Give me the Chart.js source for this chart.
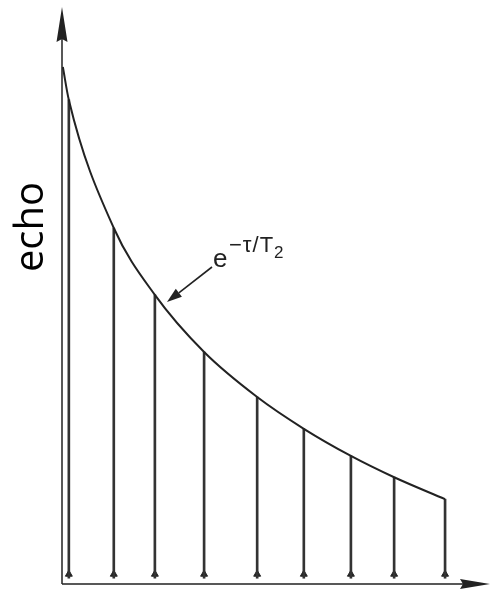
<!DOCTYPE html>
<html>
<head>
<meta charset="utf-8">
<script src="https://cdn.jsdelivr.net/npm/chart.js"></script>
<style>
  html, body { margin: 0; padding: 0; background: #fff; overflow: hidden; }
  #wrap { width: 491px; height: 591px; }
  canvas { display: block; }
</style>
</head>
<body>
<div id="wrap"><canvas id="echoChart"></canvas></div>
<script>
// axis units: 0..100 along each axis (time / echo amplitude)
const stemTimes = [1.6, 12.1, 21.7, 33.2, 45.6, 56.5, 67.5, 77.6, 89.5];
const stemEchoes = [83.9, 61.7, 50.1, 40.2, 32.4, 26.9, 22.2, 18.5, 14.7];
const curveTimes = [0.2, 1.6, 12.1, 21.7, 33.2, 45.6, 56.5, 67.5, 77.6, 89.5];
const curveEchoes = [89.6, 83.9, 61.7, 50.1, 40.2, 32.4, 26.9, 22.2, 18.5, 14.7];
const stemBase = 1.0;
const footLevel = 1.7;

const ink = '#222';

const curvePoints = curveTimes.map((t, i) => ({ x: t, y: curveEchoes[i] }));
const stemBars = stemTimes.map((t, i) => ({ x: t, y: [stemBase, stemEchoes[i]] }));
const feet = stemTimes.map(t => ({ x: t, y: footLevel }));

// axes with arrowheads, the "echo" label and the e^(-tau/T2) note
const decorations = {
  id: 'decorations',
  beforeDatasetsDraw(chart) {
    const { ctx, chartArea: a } = chart;
    ctx.save();
    ctx.strokeStyle = ink;
    ctx.fillStyle = ink;
    ctx.lineWidth = 1.5;
    ctx.beginPath();
    ctx.moveTo(a.left, a.bottom);
    ctx.lineTo(a.left, a.top + 30);
    ctx.moveTo(a.left, a.bottom);
    ctx.lineTo(a.right - 25, a.bottom);
    ctx.stroke();
    // y arrow
    ctx.beginPath();
    ctx.moveTo(a.left, a.top);
    ctx.lineTo(a.left + 5.5, a.top + 35);
    ctx.lineTo(a.left, a.top + 32);
    ctx.lineTo(a.left - 5.5, a.top + 35);
    ctx.closePath();
    ctx.fill();
    // x arrow
    ctx.beginPath();
    ctx.moveTo(a.right, a.bottom);
    ctx.lineTo(a.right - 30, a.bottom - 5);
    ctx.lineTo(a.right - 27, a.bottom);
    ctx.lineTo(a.right - 30, a.bottom + 5);
    ctx.closePath();
    ctx.fill();
    ctx.restore();
  },
  afterDraw(chart) {
    const { ctx } = chart;
    ctx.save();
    // y label
    ctx.fillStyle = '#000';
    ctx.translate(43, 227);
    ctx.rotate(-Math.PI / 2);
    ctx.font = '40px "Open Sans"';
    ctx.textAlign = 'center';
    ctx.textBaseline = 'alphabetic';
    ctx.fillText('echo', 0, 0);
    ctx.restore();

    ctx.save();
    ctx.fillStyle = ink;
    ctx.strokeStyle = ink;
    ctx.textBaseline = 'alphabetic';
    ctx.font = '26px "Liberation Sans"';
    ctx.fillText('e', 213, 267);
    ctx.font = '22px "Liberation Sans"';
    ctx.letterSpacing = '1px';
    ctx.fillText('\u2212\u03C4/T', 229, 252);
    const w = ctx.measureText('\u2212\u03C4/T').width;
    ctx.letterSpacing = '0px';
    ctx.font = '17px "Liberation Sans"';
    ctx.fillText('2', 229 + w, 258);
    // pointer arrow
    const tail = { x: 212, y: 267 }, tip = { x: 167, y: 302 };
    const ang = Math.atan2(tip.y - tail.y, tip.x - tail.x);
    const len = 15, half = 5;
    const bx = tip.x - len * Math.cos(ang), by = tip.y - len * Math.sin(ang);
    ctx.lineWidth = 1.6;
    ctx.beginPath();
    ctx.moveTo(tail.x, tail.y);
    ctx.lineTo(bx, by);
    ctx.stroke();
    ctx.beginPath();
    ctx.moveTo(tip.x, tip.y);
    ctx.lineTo(bx + half * Math.sin(ang), by - half * Math.cos(ang));
    ctx.lineTo(bx - half * Math.sin(ang), by + half * Math.cos(ang));
    ctx.closePath();
    ctx.fill();
    ctx.restore();
  }
};

new Chart(document.getElementById('echoChart'), {
  type: 'scatter',
  data: {
    datasets: [
      {
        type: 'line',
        data: curvePoints,
        borderColor: ink,
        borderWidth: 2,
        pointRadius: 0,
        fill: false,
        cubicInterpolationMode: 'monotone'
      },
      {
        type: 'bar',
        data: stemBars,
        backgroundColor: '#333',
        barThickness: 2,
        grouped: false
      },
      {
        type: 'scatter',
        data: feet,
        pointStyle: 'triangle',
        pointRadius: 4,
        backgroundColor: ink,
        borderColor: ink,
        borderWidth: 1
      }
    ]
  },
  options: {
    responsive: true,
    maintainAspectRatio: false,
    animation: false,
    layout: { autoPadding: false, padding: { left: 62, right: 1, top: 7, bottom: 7 } },
    plugins: { legend: { display: false }, tooltip: { enabled: false } },
    scales: {
      x: { type: 'linear', min: 0, max: 100, offset: false, display: false },
      y: { type: 'linear', min: 0, max: 100, display: false }
    }
  },
  plugins: [decorations]
});
</script>
</body>
</html>
